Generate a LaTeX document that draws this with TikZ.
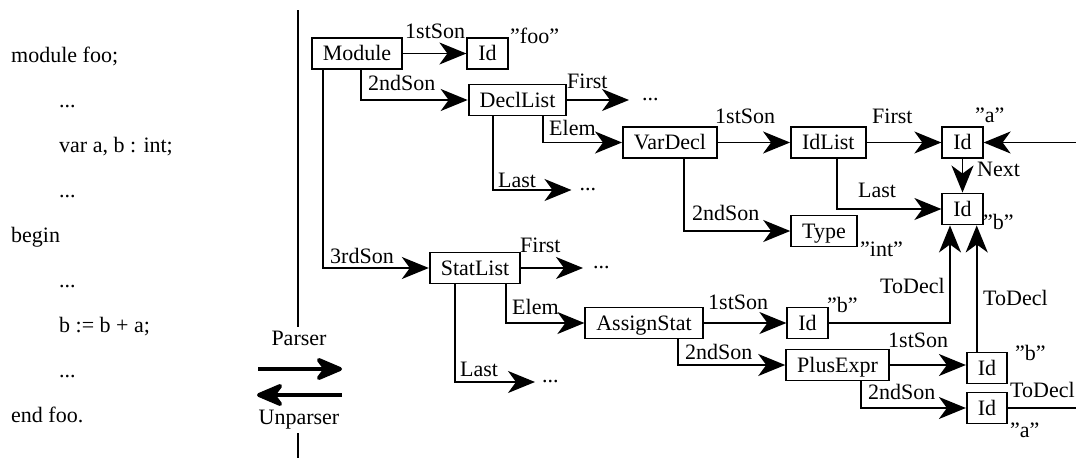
\documentclass[tikz,border=0pt]{standalone}
\usepackage{fontspec}
\setmainfont{Liberation Serif}
\usetikzlibrary{arrows.meta}
\begin{document}
\begin{tikzpicture}[x=1pt,y=-1pt,
  every node/.style={font=\fontsize{22}{26}\selectfont},
  box/.style={draw, line width=1.9pt, inner xsep=11pt, inner ysep=0pt, minimum height=31pt, text height=14.6pt, text depth=0pt},
  lbl/.style={anchor=base west, inner sep=0pt},
  con/.style={line width=1.9pt, -{Stealth[length=27pt,width=22pt,inset=8pt]}},
  ln/.style={line width=1.9pt},
  big/.style={line width=4pt, -{Stealth[length=32pt,width=27pt,inset=10pt,round]}},
  dotn/.style={anchor=west, inner ysep=0pt},
]
\useasboundingbox (0,0) rectangle (1076,458);

% source text
\node[lbl] (s1) at (11,62) {module foo;};
\node[lbl] (s2) at (59,107) {...};
\node[lbl] (s3) at (59,152) {var a, b : int;};
\node[lbl] (s4) at (59,197) {...};
\node[lbl] (s5) at (11,242) {begin};
\node[lbl] (s6) at (59,287) {...};
\node[lbl] (s7) at (59,332) {b := b + a;};
\node[lbl] (s8) at (59,377) {...};
\node[lbl] (s9) at (11,422) {end foo.};

% separator and parser arrows
\node (parser) at (299,338) {Parser};
\node (unparser) at (299,420) {Unparser};
\coordinate (vtop) at (298,10);
\coordinate (vbot) at (298,458);
\draw[ln] (vtop) -- (parser.north -| vtop);
\draw[ln] (unparser.south -| vbot) -- (vbot);
\coordinate (pa1) at (258,369);
\coordinate (pa2) at (342,369);
\coordinate (ua1) at (342,395);
\coordinate (ua2) at (257,395);
\draw[big] (pa1) -- (pa2);
\draw[big] (ua1) -- (ua2);

% tree nodes
\node[box] (mod) at (357,53.5) {Module};
\node[box] (idfoo) at (487.5,53.5) {Id};
\node[box] (decl) at (517.5,100) {DeclList};
\node[box] (var) at (670,142.5) {VarDecl};
\node[box] (idl) at (828.3,142.5) {IdList};
\node[box] (ida) at (962.5,142.5) {Id};
\node[box] (idb) at (962.5,209) {Id};
\node[box] (type) at (824,231) {Type};
\node[box] (stat) at (475,268) {StatList};
\node[box] (asg) at (644,323) {AssignStat};
\node[box] (idb3) at (807.5,323) {Id};
\node[box] (plus) at (837.5,365) {PlusExpr};
\node[box] (idb2) at (987,368) {Id};
\node[box] (ida2) at (987,408) {Id};

% dots
\node[dotn, inner xsep=13pt] (d1) at (629,100) {...};
\node[dotn, inner xsep=8pt] (d2) at (571.5,190) {...};
\node[dotn, inner xsep=10pt] (d3) at (583,268) {...};
\node[dotn, inner xsep=7pt] (d4) at (535,382) {...};

\coordinate (edge1) at (1076,142.5);
\coordinate (edge2) at (1076,408);

% connectors
\draw[con] (mod) -- (idfoo);
\draw[con] ([xshift=3.7pt]mod.south) |- (decl);
\draw[con] ([xshift=-34pt]mod.south) |- (stat);
\draw[con] (decl) -- (d1);
\draw[con] ([xshift=25.8pt]decl.south) |- (var);
\draw[con] ([xshift=-24.2pt]decl.south) |- (d2);
\draw[con] (var) -- (idl);
\draw[con] (idl) -- (ida);
\draw[con] (edge1) -- (ida);
\draw[con] (ida) -- (idb);
\draw[con] ([xshift=8.4pt]idl.south) |- (idb);
\draw[con] ([xshift=14pt]var.south) |- (type);
\draw[con] (stat) -- (d3);
\draw[con] ([xshift=31pt]stat.south) |- (asg);
\draw[con] ([xshift=-20pt]stat.south) |- (d4);
\draw[con] (asg) -- (idb3);
\draw[con] (idb3) -| ([xshift=-12.5pt]idb.south);
\draw[con] ([xshift=-10.3pt]idb2.north) -- ([xshift=-10.3pt]idb2.north |- idb.south);
\draw[con] ([xshift=34pt]asg.south) |- (plus);
\draw[con] (plus.east) -- (plus.east -| idb2.west);
\draw[con] ([xshift=23.2pt]plus.south) |- (ida2);
\draw[ln] (ida2) -- (edge2);

% labels
\node[lbl] (l1) at (405,38) {1stSon};
\node[lbl] (q1) at (510,43) {”foo”};
\node[lbl] (l2) at (368,90) {2ndSon};
\node[lbl] (l3) at (567,88) {First};
\node[lbl] (l4) at (549,135) {Elem};
\node[lbl] (l5) at (498,187) {Last};
\node[lbl] (l6) at (715,123) {1stSon};
\node[lbl] (l7) at (872,123) {First};
\node[lbl] (q2) at (975,122) {”a”};
\node[lbl] (l8) at (977,176) {Next};
\node[lbl] (l9) at (858,197) {Last};
\node[lbl] (q3) at (983,229) {”b”};
\node[lbl] (l10) at (692,220) {2ndSon};
\node[lbl] (q4) at (860,256) {”int”};
\node[lbl] (l11) at (330,263) {3rdSon};
\node[lbl] (l12) at (520,252) {First};
\node[lbl] (l13) at (512,314) {Elem};
\node[lbl] (l14) at (460,376) {Last};
\node[lbl] (l15) at (708,309) {1stSon};
\node[lbl] (q5) at (827,312) {”b”};
\node[lbl] (l16) at (880,293) {ToDecl};
\node[lbl] (l17) at (983,305) {ToDecl};
\node[lbl] (l18) at (685,359) {2ndSon};
\node[lbl] (l19) at (888,347) {1stSon};
\node[lbl] (q6) at (1015,360) {”b”};
\node[lbl] (l20) at (868,399) {2ndSon};
\node[lbl] (l21) at (1010,397) {ToDecl};
\node[lbl] (q7) at (1010,437) {”a”};
\end{tikzpicture}
\end{document}
